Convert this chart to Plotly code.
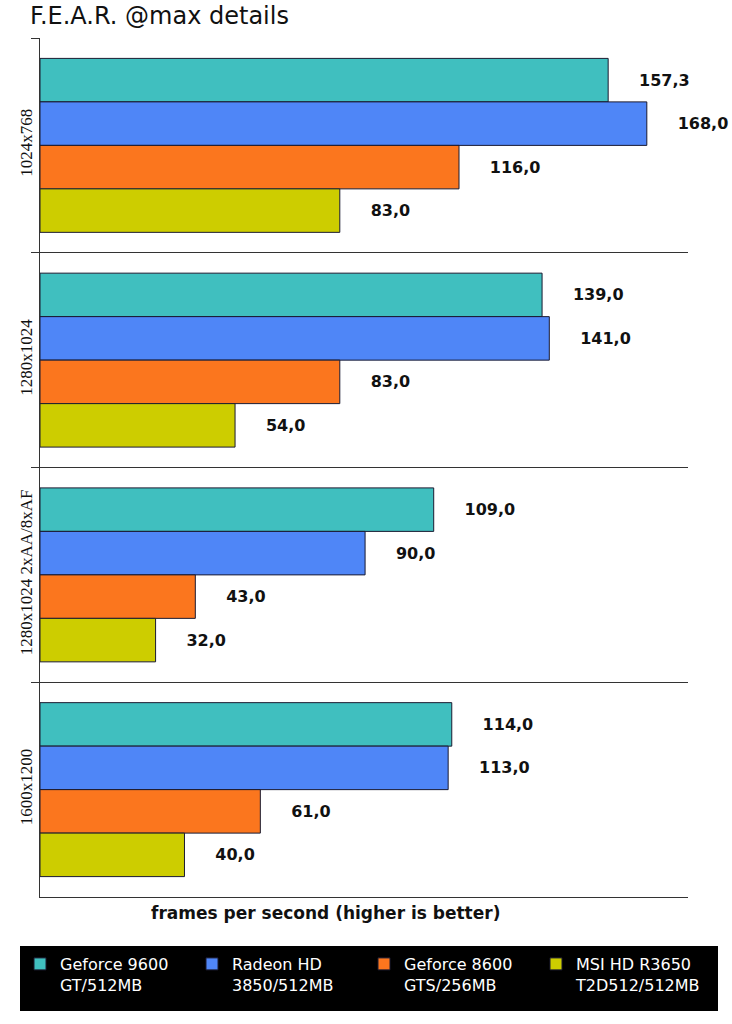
import plotly.graph_objects as go

categories = ["1024x768", "1280x1024", "1280x1024 2xAA/8xAF", "1600x1200"]
series_names = ["Geforce 9600<br>GT/512MB", "Radeon HD<br>3850/512MB",
                "Geforce 8600<br>GTS/256MB", "MSI HD R3650<br>T2D512/512MB"]
geforce9600 = [157.3, 139.0, 109.0, 114.0]
radeon3850 = [168.0, 141.0, 90.0, 113.0]
geforce8600 = [116.0, 83.0, 43.0, 61.0]
msi3650 = [83.0, 54.0, 32.0, 40.0]
colors = ["#40BFBF", "#4F86F7", "#FB761E", "#CDCD00"]
x_title = "frames per second (higher is better)"

series = [geforce9600, radeon3850, geforce8600, msi3650]

fig = go.Figure()
pad = "\u00a0" * 5
for name, vals, col in zip(series_names, series, colors):
    fig.add_trace(go.Bar(
        y=categories, x=vals, name=name, orientation="h",
        marker=dict(color=col, line=dict(color="#1a1a30", width=1)),
        text=[pad + f"{v:.1f}".replace(".", ",") for v in vals],
        textposition="outside", constraintext="none", cliponaxis=False,
        textfont=dict(family="DejaVu Sans", size=16, color="#111111", weight="bold"),
        hoverinfo="skip",
    ))

# black band behind the legend
fig.add_shape(type="rect", xref="paper", yref="paper",
              x0=-20 / 648, x1=678 / 648, y0=-114 / 859, y1=-49 / 859,
              fillcolor="black", line=dict(width=0), layer="below")

fig.add_annotation(text="<b>" + x_title + "</b>", xref="paper", yref="paper",
                   x=(325 - 40) / 648, y=-16 / 859, xanchor="center", yanchor="middle",
                   showarrow=False,
                   font=dict(family="DejaVu Sans", size=17, color="#111111"))

fig.update_layout(
    width=732, height=1024,
    margin=dict(l=40, r=44, t=38, b=127, autoexpand=False),
    paper_bgcolor="white", plot_bgcolor="white",
    barmode="group", bargap=0.19, bargroupgap=0,
    title=dict(text="F.E.A.R. @max details", x=0, xref="paper", xanchor="left",
               y=1 - 7 / 1024, yref="container", yanchor="top", pad=dict(l=-10),
               font=dict(family="DejaVu Sans", size=24, color="#111111")),
    showlegend=True,
    legend=dict(orientation="h", x=-20 / 648, xanchor="left", y=-50 / 859, yanchor="top",
                bgcolor="black", bordercolor="black", borderwidth=0,
                font=dict(family="DejaVu Sans", size=16, color="white"),
                entrywidth=127, valign="top", traceorder="normal", itemclick=False),
    xaxis=dict(range=[0, 179.4], showticklabels=False, showgrid=False, zeroline=False,
               showline=True, linecolor="#333333", linewidth=1, ticks=""),
    yaxis=dict(type="category", autorange="reversed", tickson="boundaries",
               ticks="outside", ticklen=8, tickcolor="#333333",
               showgrid=True, gridcolor="#333333", gridwidth=1,
               showline=True, linecolor="#333333", linewidth=1, mirror=False,
               tickangle=-90,
               tickfont=dict(family="Liberation Serif", size=17, color="#111111")),
)

fig.write_html("out.html")
